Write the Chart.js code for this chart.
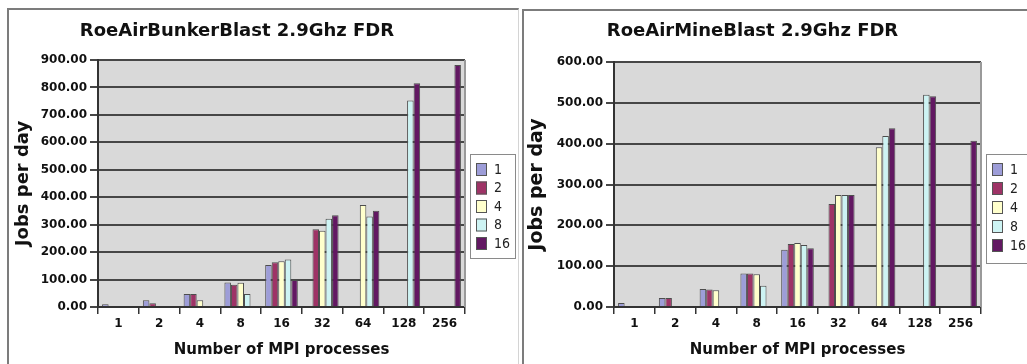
<!DOCTYPE html>
<html>
<head>
<meta charset="utf-8">
<script src="https://cdn.jsdelivr.net/npm/chart.js@4.4.0/dist/chart.umd.min.js"></script>
<style>
  html, body { margin: 0; padding: 0; background: #fff; width: 1027px; height: 364px; overflow: hidden; }
  .frame { position: absolute; border-top: 2px solid #7c7c7c; border-left: 2px solid #7c7c7c; }
  #frameA { left: 7px; top: 8px; width: 509px; height: 370px; border-right: 1px solid #d4d4d4; }
  #frameB { left: 522px; top: 9px; width: 520px; height: 370px; }
  canvas { position: absolute; }
  #bunkerChart { left: 9px; top: 10px; }
  #mineChart { left: 524px; top: 11px; }
</style>
</head>
<body>
<div class="frame" id="frameA"></div>
<div class="frame" id="frameB"></div>
<canvas id="bunkerChart" width="508" height="354"></canvas>
<canvas id="mineChart" width="510" height="353"></canvas>
<script>
// categories and series
const processCounts = ['1', '2', '4', '8', '16', '32', '64', '128', '256'];
const seriesLabels = ['1', '2', '4', '8', '16'];
const seriesColors = ['#9d9dd8', '#9e3366', '#ffffcc', '#cdf3f3', '#621862'];

// RoeAirBunkerBlast - jobs per day
const bunker1  = [10, 25, 47, 89, 153, null, null, null, null];
const bunker2  = [null, 14, 47, 81, 163, 283, null, null, null];
const bunker4  = [null, null, 25, 88, 167, 278, 372, null, null];
const bunker8  = [null, null, null, 47, 173, 322, 330, 752, null];
const bunker16 = [null, null, null, null, 98, 334, 351, 815, 882];
const bunkerYMax = 900;

// RoeAirMineBlast - jobs per day
const mine1  = [10, 22, 44, 82, 140, null, null, null, null];
const mine2  = [null, 22, 43, 82, 154, 252, null, null, null];
const mine4  = [null, null, 41, 80, 157, 274, 391, null, null];
const mine8  = [null, null, null, 52, 152, 274, 419, 520, null];
const mine16 = [null, null, null, null, 144, 274, 438, 516, 407];
const mineYMax = 600;

const FONT = "'DejaVu Sans', sans-serif";

// grey plot area
const plotBackground = {
    id: 'plotBackground',
    beforeDraw(chart) {
        const { ctx, chartArea: a } = chart;
        ctx.save();
        ctx.fillStyle = '#d9d9d9';
        ctx.fillRect(a.left, a.top, a.right - a.left, a.bottom - a.top);
        ctx.restore();
    },
    afterDraw(chart) {
        const { ctx, chartArea: a } = chart;
        ctx.save();
        ctx.strokeStyle = '#9a9a9a';
        ctx.lineWidth = 2;
        ctx.beginPath();
        ctx.moveTo(a.right, a.top);
        ctx.lineTo(a.right, a.bottom);
        ctx.stroke();
        ctx.restore();
    }
};

// boxed legend to the right of the plot
const legendBox = {
    id: 'legendBox',
    afterDraw(chart, args, opts) {
        const { ctx, chartArea: a } = chart;
        const x = a.right + opts.gap, y = a.top + opts.top;
        ctx.save();
        ctx.fillStyle = '#fff';
        ctx.fillRect(x, y, opts.width, opts.height);
        ctx.strokeStyle = '#8a8a8a';
        ctx.lineWidth = 1;
        ctx.strokeRect(x + 0.5, y + 0.5, opts.width, opts.height);
        ctx.font = '14px ' + "'DejaVu Sans Condensed', 'DejaVu Sans', sans-serif";
        ctx.textBaseline = 'middle';
        chart.data.datasets.forEach((ds, i) => {
            const sy = y + opts.first + i * opts.step;
            ctx.fillStyle = ds.backgroundColor;
            ctx.fillRect(x + opts.swatchX, sy, 11, 13);
            ctx.strokeStyle = '#555';
            ctx.strokeRect(x + opts.swatchX + 0.5, sy + 0.5, 10, 12);
            ctx.fillStyle = '#222';
            ctx.fillText(ds.label, x + opts.textX, sy + 7);
        });
        ctx.restore();
    }
};

function makeChart(id, titleText, series, yMax, geo) {
    const ctx = document.getElementById(id).getContext('2d');
    return new Chart(ctx, {
        type: 'bar',
        data: {
            labels: processCounts,
            datasets: series.map((vals, i) => ({
                label: seriesLabels[i],
                data: vals,
                backgroundColor: seriesColors[i],
                borderColor: '#4d4d4d',
                borderWidth: 1,
                categoryPercentage: 0.8,
                barPercentage: 1
            }))
        },
        options: {
            responsive: false,
            animation: false,
            layout: { padding: { left: 0, right: geo.right, top: 0, bottom: 0 } },
            plugins: {
                legend: { display: false },
                tooltip: { enabled: false },
                title: {
                    display: true,
                    text: titleText,
                    color: '#111',
                    font: { family: FONT, size: 18, weight: 'bold' },
                    padding: { top: geo.titleTop, bottom: geo.titleBottom }
                },
                legendBox: geo.legend
            },
            scales: {
                x: {
                    grid: { display: true, drawOnChartArea: false, drawTicks: true, tickLength: 7, color: '#333', lineWidth: 1.5, offset: true },
                    border: { display: true, color: '#333', width: 2 },
                    ticks: { color: '#111', font: { family: FONT, size: 12, weight: 'bold' }, padding: 3, maxRotation: 0 },
                    title: {
                        display: true,
                        text: 'Number of MPI processes',
                        color: '#111',
                        font: { family: FONT, size: 15, weight: 'bold' },
                        padding: { top: 2, bottom: 5 }
                    },
                    afterFit: s => { s.height = geo.xHeight; }
                },
                y: {
                    min: 0,
                    max: yMax,
                    ticks: {
                        stepSize: 100,
                        color: '#111',
                        font: { family: FONT, size: 12, weight: 'bold' },
                        padding: 3,
                        callback: v => v.toFixed(2)
                    },
                    grid: { color: '#474747', lineWidth: 2, tickLength: 8 },
                    border: { display: true, color: '#333', width: 2 },
                    title: {
                        display: true,
                        text: 'Jobs per day',
                        color: '#111',
                        font: { family: FONT, size: geo.yTitleSize, weight: 'bold' },
                        padding: { top: geo.yTitlePad, bottom: 0 }
                    },
                    afterFit: s => { s.width = geo.yWidth; }
                }
            }
        },
        plugins: [plotBackground, legendBox]
    });
}

document.addEventListener('DOMContentLoaded', function () {
    makeChart('bunkerChart', 'RoeAirBunkerBlast 2.9Ghz FDR',
        [bunker1, bunker2, bunker4, bunker8, bunker16], bunkerYMax, {
            right: 52, yWidth: 89, xHeight: 57, titleTop: 11, titleBottom: 17.4,
            yTitleSize: 18, yTitlePad: 4,
            legend: { gap: 5, top: 94, width: 45, height: 104, swatchX: 6, textX: 24, first: 9, step: 18.5 }
        });

    makeChart('mineChart', 'RoeAirMineBlast 2.9Ghz FDR',
        [mine1, mine2, mine4, mine8, mine16], mineYMax, {
            right: 53, yWidth: 90, xHeight: 57, titleTop: 10, titleBottom: 19.4,
            yTitleSize: 19, yTitlePad: 2,
            legend: { gap: 5, top: 92, width: 60, height: 109, swatchX: 6, textX: 24, first: 9, step: 19 }
        });
});
</script>
</body>
</html>
